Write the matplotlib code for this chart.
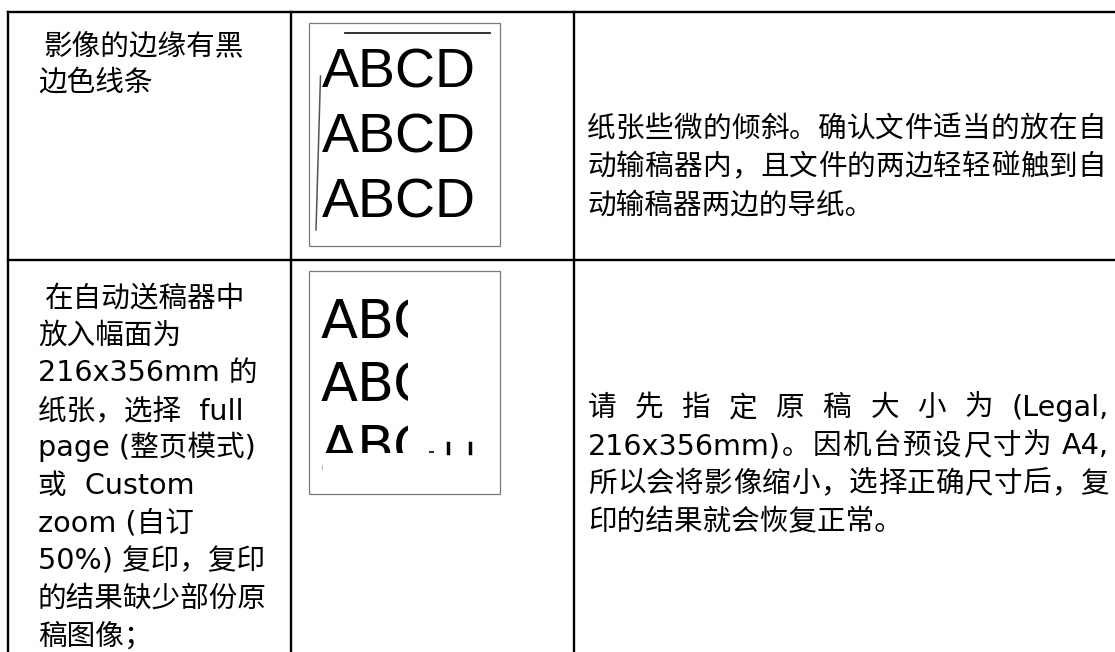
import re
import matplotlib
matplotlib.use("Agg")
import matplotlib.pyplot as plt
from matplotlib.patches import Rectangle
from matplotlib.transforms import Bbox, TransformedBbox

# ---------------- data ----------------
row1_problem = ["影像的边缘有黑", "边色线条"]
row1_solution = ["纸张些微的倾斜。确认文件适当的放在自",
                 "动输稿器内，且文件的两边轻轻碰触到自",
                 "动输稿器两边的导纸。"]
row1_justify = [True, True, False]

row2_problem = ["在自动送稿器中", "放入幅面为", "216x356mm 的", "纸张，选择  full",
                "page (整页模式)", "或  Custom", "zoom (自订", "50%) 复印，复印",
                "的结果缺少部份原", "稿图像；"]
row2_solution = ["请 先 指 定 原 稿 大 小 为 (Legal,",
                 "216x356mm)。因机台预设尺寸为 A4,",
                 "所以会将影像缩小，选择正确尺寸后，复",
                 "印的结果就会恢复正常。"]
row2_justify = [True, True, True, False]

sample_word = "ABCD"

# ---------------- layout ----------------
W, H = 1115, 652
fig = plt.figure(figsize=(W / 100, H / 100), dpi=100)
ax = fig.add_axes([0, 0, 1, 1])
ax.set_xlim(0, W)
ax.set_ylim(H, 0)
ax.axis("off")

FAM = ["DejaVu Sans", "Noto Sans CJK SC"]
FS = 20.6

x_left, x_c2, x_c3, x_right = 8, 291, 574, 1125
y_top, y_row, y_bot = 12, 260, 660
lw = 1.7
for x in (x_left, x_c2, x_c3):
    ax.plot([x, x], [y_top, y_bot], color="black", lw=lw, solid_capstyle="projecting")
for y in (y_top, y_row):
    ax.plot([x_left, x_right], [y, y], color="black", lw=lw, solid_capstyle="projecting")

renderer = fig.canvas.get_renderer()


def put_line(x0, yb, text, justify_to=None):
    if justify_to is None:
        ax.text(x0, yb, text, fontsize=FS, family=FAM, va="baseline", ha="left")
        return
    tokens = re.findall(r"[A-Za-z0-9()%.,]+ ?|\S ?", text)
    tokens[-1] = tokens[-1].rstrip()
    arts = [ax.text(0, yb, t, fontsize=FS, family=FAM, va="baseline", ha="left")
            for t in tokens]
    widths = [a.get_window_extent(renderer).width for a in arts]
    gap = (justify_to - x0 - sum(widths)) / max(len(tokens) - 1, 1)
    x = x0
    for a, w in zip(arts, widths):
        a.set_x(x)
        x += w + gap


# column 1 text (first line of each cell slightly indented)
for i, s in enumerate(row1_problem):
    put_line(38 + (5 if i == 0 else 0), 54 + i * 37, s)
for i, s in enumerate(row2_problem):
    put_line(38 + (7 if i == 0 else 0), 306 + i * 37.6, s)

# column 3 text
for i, (s, j) in enumerate(zip(row1_solution, row1_justify)):
    put_line(587, 137 + i * 38, s, 1106 if j else None)
for i, (s, j) in enumerate(zip(row2_solution, row2_justify)):
    put_line(588, 416 + i * 38, s, 1109 if j else None)

# ---------------- sample picture 1 ----------------
ax.add_patch(Rectangle((309, 23), 191, 223, fill=False, ec="#7a7a7a", lw=0.9))
ax.plot([345, 490], [33, 33], color="#222222", lw=1.3)
ax.plot([320.5, 316], [76, 230], color="#555555", lw=1.1)
for i in range(3):
    ax.text(322, 87 + i * 65.5, sample_word, fontsize=40, family="Liberation Sans",
            va="baseline", ha="left")

# ---------------- sample picture 2 ----------------
ax.add_patch(Rectangle((309, 271), 191, 223, fill=False, ec="#7a7a7a", lw=0.9))
clip_box = TransformedBbox(Bbox.from_extents(310, 272, 408, 453), ax.transData)
for i in range(3):
    t = ax.text(321, 338 + i * 63, sample_word, fontsize=39, family="DejaVu Sans",
                va="baseline", ha="left", clip_on=True)
    t.set_clip_box(clip_box)
    t.set_clip_path(None)
# fragments of the cut-off letters on the last line
ax.plot([430, 433], [452, 452], color="#333333", lw=1.5)
ax.plot([448, 448], [443, 453], color="black", lw=2.5)
ax.plot([470, 470], [443, 453], color="black", lw=2.5)
ax.plot([322, 322], [465, 469], color="#bbbbbb", lw=0.8)

fig.savefig("out.png", dpi=100)
